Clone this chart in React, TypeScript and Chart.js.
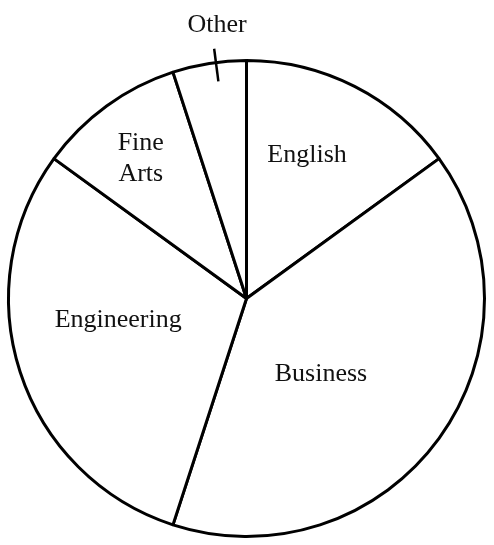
import React, { useEffect, useRef } from 'react';
import { Chart, registerables, Plugin } from 'chart.js';

Chart.register(...registerables);

// Share of students by school (percent), clockwise from 12 o'clock
const schools = ['English', 'Business', 'Engineering', 'Fine Arts', 'Other'];
const shares = [15, 40, 30, 10, 5];

// Label text lines per slice
const labelLines = [['English'], ['Business'], ['Engineering'], ['Fine', 'Arts'], ['Other']];

// Where each label sits: fraction along the slice's arc, and radius as fraction of the pie radius
const labelAlong = [0.42, 0.56, 0.583, 0.48, 0.66];
const labelRadius = [0.66, 0.44, 0.546, 0.743, 1.161];

// Slices whose label is outside the pie get a short tick across the rim
const leaderAlong = [null, null, null, null, 0.59];

const FONT_SIZE = 26;
const LINE_GAP = 31;

const sliceLabels: Plugin<'pie'> = {
  id: 'sliceLabels',
  afterDatasetsDraw(chart) {
    const { ctx } = chart;
    const meta = chart.getDatasetMeta(0);
    ctx.save();
    ctx.font = `${FONT_SIZE}px "Liberation Serif", "Times New Roman", serif`;
    ctx.fillStyle = '#111';
    ctx.textAlign = 'center';
    ctx.textBaseline = 'alphabetic';
    meta.data.forEach((el: any, i) => {
      const { x, y, startAngle, endAngle, outerRadius } = el.getProps(
        ['x', 'y', 'startAngle', 'endAngle', 'outerRadius'],
        true
      );
      const a = startAngle + (endAngle - startAngle) * labelAlong[i];
      const r = outerRadius * labelRadius[i];
      const cx = x + Math.cos(a) * r;
      const cy = y + Math.sin(a) * r;
      const lines = labelLines[i];
      const top = cy - ((lines.length - 1) * LINE_GAP) / 2;
      lines.forEach((t, k) => {
        ctx.fillText(t, cx, top + k * LINE_GAP + FONT_SIZE * 0.33);
      });

      const la = leaderAlong[i];
      if (la != null) {
        const ang = startAngle + (endAngle - startAngle) * la;
        ctx.beginPath();
        ctx.strokeStyle = '#000';
        ctx.lineWidth = 2.5;
        ctx.moveTo(x + Math.cos(ang) * outerRadius * 0.92, y + Math.sin(ang) * outerRadius * 0.92);
        ctx.lineTo(x + Math.cos(ang) * outerRadius * 1.058, y + Math.sin(ang) * outerRadius * 1.058);
        ctx.stroke();
      }
    });
    ctx.restore();
  },
};

const App: React.FC = () => {
  const canvasRef = useRef<HTMLCanvasElement>(null);
  const chartRef = useRef<Chart | null>(null);

  useEffect(() => {
    if (!canvasRef.current) return;
    if (chartRef.current) chartRef.current.destroy();

    chartRef.current = new Chart(canvasRef.current, {
      type: 'pie',
      data: {
        labels: schools,
        datasets: [
          {
            data: shares,
            backgroundColor: '#fff',
            borderColor: '#000',
            borderWidth: 3,
          },
        ],
      },
      options: {
        animation: false,
        responsive: true,
        maintainAspectRatio: false,
        layout: { padding: { left: 7, right: 8, top: 59, bottom: 7 } },
        plugins: {
          legend: { display: false },
          tooltip: { enabled: false },
        },
      },
      plugins: [sliceLabels],
    });

    return () => {
      chartRef.current?.destroy();
      chartRef.current = null;
    };
  }, []);

  return (
    <div style={{ position: 'fixed', left: 0, top: 0, width: 494, height: 545, background: '#fff' }}>
      <canvas ref={canvasRef} />
    </div>
  );
};

export default App;
